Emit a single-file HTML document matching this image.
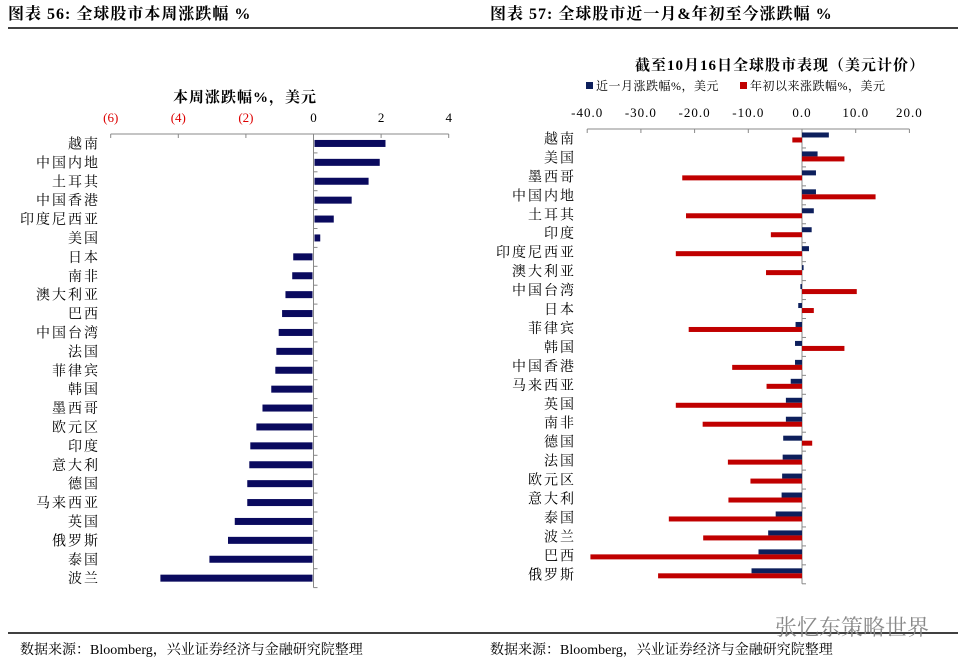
<!DOCTYPE html>
<html><head><meta charset="utf-8"><style>
body{margin:0;background:#fff;}
svg{display:block;font-family:"Liberation Serif","Noto Serif CJK SC",serif;}
</style></head><body>
<svg width="972" height="668" viewBox="0 0 972 668" xmlns="http://www.w3.org/2000/svg">
<text x="8" y="19" font-size="16" font-weight="bold" fill="#000" letter-spacing="1">图表 56:  全球股市本周涨跌幅  %</text>
<text x="490" y="19" font-size="16" font-weight="bold" fill="#000" letter-spacing="1">图表 57:  全球股市近一月&amp;年初至今涨跌幅  %</text>
<line x1="8" y1="28" x2="958" y2="28" stroke="#000" stroke-width="1.5"/>
<line x1="8" y1="633" x2="958" y2="633" stroke="#000" stroke-width="1.5"/>
<text x="20" y="654" font-size="14" fill="#000">数据来源：Bloomberg，兴业证券经济与金融研究院整理</text>
<text x="490" y="654" font-size="14" fill="#000">数据来源：Bloomberg，兴业证券经济与金融研究院整理</text>
<text x="775" y="635" font-size="22" fill="#888">张忆东策略世界</text>
<g id="left"></g>
<g id="right"></g>
</svg>
<script>
const leftCats=["越南","中国内地","土耳其","中国香港","印度尼西亚","美国","日本","南非","澳大利亚","巴西","中国台湾","法国","菲律宾","韩国","墨西哥","欧元区","印度","意大利","德国","马来西亚","英国","俄罗斯","泰国","波兰"];
const leftVals=[2.1,1.93,1.6,1.1,0.57,0.17,-0.57,-0.6,-0.8,-0.9,-1.0,-1.07,-1.1,-1.22,-1.48,-1.66,-1.84,-1.87,-1.93,-1.93,-2.3,-2.5,-3.05,-4.5];
const leftTicks=[-6,-4,-2,0,2,4];
const leftTickLabels=["(6)","(4)","(2)","0","2","4"];
const rightCats=["越南","美国","墨西哥","中国内地","土耳其","印度","印度尼西亚","澳大利亚","中国台湾","日本","菲律宾","韩国","中国香港","马来西亚","英国","南非","德国","法国","欧元区","意大利","泰国","波兰","巴西","俄罗斯"];
const monthVals=[5.0,2.9,2.6,2.6,2.2,1.8,1.3,0.3,-0.3,-0.7,-1.2,-1.3,-1.3,-2.1,-3.0,-3.0,-3.5,-3.6,-3.7,-3.8,-4.9,-6.3,-8.1,-9.4];
const ytdVals=[-1.8,7.9,-22.3,13.7,-21.6,-5.8,-23.5,-6.7,10.2,2.2,-21.1,7.9,-13.0,-6.6,-23.5,-18.5,1.9,-13.8,-9.6,-13.7,-24.8,-18.4,-39.4,-26.8];
const rightTicks=[-40,-30,-20,-10,0,10,20];
const rightTickLabels=["-40.0","-30.0","-20.0","-10.0","0.0","10.0","20.0"];
const NS="http://www.w3.org/2000/svg";
function mk(p,t,a){const e=document.createElementNS(NS,t);for(const k in a)e.setAttribute(k,a[k]);p.appendChild(e);return e;}
(function(){
const g=document.getElementById('left');
const x=v=>313.5+v*33.8;
const y0=134,step=18.9;
const rowY=i=>y0+step*(i+0.5);
const t=mk(g,'text',{x:245,y:102,'font-size':15,'font-weight':'bold','text-anchor':'middle','letter-spacing':1});t.textContent="本周涨跌幅%，美元";


const ax=mk(g,'line',{x1:x(-6),y1:y0,x2:x(4),y2:y0,stroke:'#888'});


leftTicks.forEach((v,i)=>{
 const l=mk(g,'line',{x1:x(v),y1:y0,x2:x(v),y2:y0+4,stroke:'#888'});
 
 
 const tx=mk(g,'text',{x:x(v),y:122,'font-size':13,'text-anchor':'middle',fill:v<0?'#d00':'#000'});tx.textContent=leftTickLabels[i];
 
 
});
const za=mk(g,'line',{x1:x(0),y1:y0,x2:x(0),y2:y0+step*leftCats.length,stroke:'#888'});


leftCats.forEach((c,i)=>{
 const tk=mk(g,'line',{x1:x(0),y1:y0+step*(i+1),x2:x(0)+4,y2:y0+step*(i+1),stroke:'#888'});
 
 
 const tx=mk(g,'text',{x:100,y:rowY(i)+5,'font-size':14,'text-anchor':'end','letter-spacing':2});tx.textContent=c;
 
 
 const v=leftVals[i];
 const r=mk(g,'rect',{x:Math.min(x(0),x(v))+(v>0?1:-1),y:rowY(i)-3.5,width:Math.abs(x(v)-x(0)),height:7,fill:'#0a0a5e'});
 
 
});
})();
(function(){
const g=document.getElementById('right');
const x=v=>802+v*5.37;
const y0=129,step=18.95;
const rowY=i=>y0+step*(i+0.5);
const t=mk(g,'text',{x:780,y:70,'font-size':15,'font-weight':'bold','text-anchor':'middle','letter-spacing':1});t.textContent="截至10月16日全球股市表现（美元计价）";


const lb=mk(g,'rect',{x:586,y:82,width:7,height:7,fill:'#0d1f5c'});


const lt=mk(g,'text',{x:596,y:90,'font-size':12,'letter-spacing':0.5});lt.textContent="近一月涨跌幅%，美元";


const lr=mk(g,'rect',{x:740,y:82,width:7,height:7,fill:'#c00000'});


const lt2=mk(g,'text',{x:750,y:90,'font-size':12,'letter-spacing':0.5});lt2.textContent="年初以来涨跌幅%，美元";


const ax=mk(g,'line',{x1:x(-40),y1:y0,x2:x(20),y2:y0,stroke:'#888'});


rightTicks.forEach((v,i)=>{
 const l=mk(g,'line',{x1:x(v),y1:y0,x2:x(v),y2:y0+4,stroke:'#888'});
 
 
 const tx=mk(g,'text',{x:x(v),y:117,'font-size':13,'text-anchor':'middle','letter-spacing':1});tx.textContent=rightTickLabels[i];
 
 
});
const za=mk(g,'line',{x1:x(0),y1:y0,x2:x(0),y2:y0+step*rightCats.length,stroke:'#888'});


rightCats.forEach((c,i)=>{
 const tk=mk(g,'line',{x1:x(0),y1:y0+step*(i+1),x2:x(0)+4,y2:y0+step*(i+1),stroke:'#888'});
 
 
 const tx=mk(g,'text',{x:576,y:rowY(i)+5,'font-size':14,'text-anchor':'end','letter-spacing':2});tx.textContent=c;
 
 
 const m=monthVals[i],yv=ytdVals[i];
 const b=mk(g,'rect',{x:Math.min(x(0),x(m)),y:rowY(i)-6,width:Math.abs(x(m)-x(0)),height:5,fill:'#0d1f5c'});
 
 
 const r=mk(g,'rect',{x:Math.min(x(0),x(yv)),y:rowY(i)-1,width:Math.abs(x(yv)-x(0)),height:5,fill:'#c00000'});
 
 
});
})();
</script>
</body></html>
